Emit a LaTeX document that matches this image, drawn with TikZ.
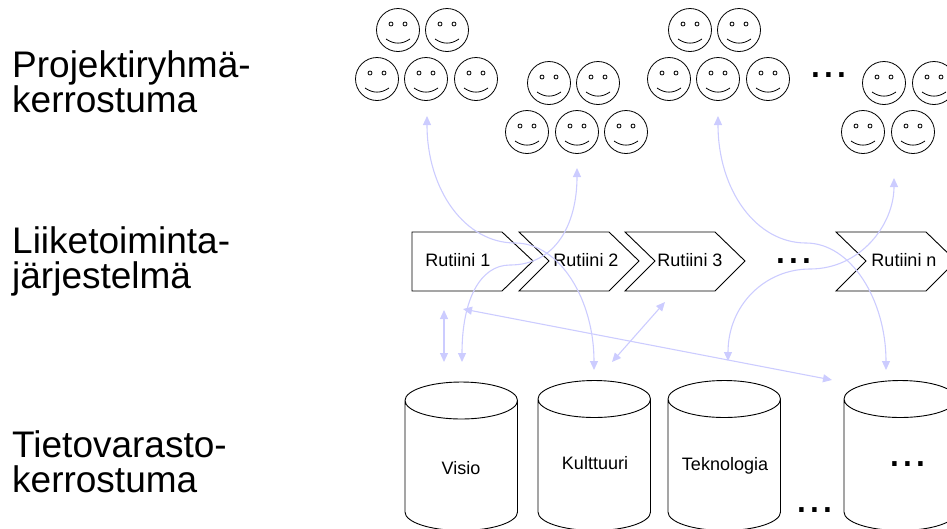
\documentclass[tikz,border=0pt]{standalone}
\usepackage{fontspec}
\setmainfont{Liberation Sans}
\usetikzlibrary{arrows.meta,positioning}

\begin{document}
\begin{tikzpicture}[x=1pt,y=-1pt]

\tikzset{layerLabel/.style={anchor=base west, align=left, inner sep=0pt, font=\fontsize{37}{34.5}\selectfont},
boxLabel/.style={anchor=base, inner sep=0pt, font=\fontsize{18}{20}\selectfont},
moreDots/.style={anchor=base, inner sep=0pt, font=\fontsize{46}{46}\selectfont},
linkArrow/.style={draw={rgb,255:red,204;green,204;blue,255}, line width=1.1pt, {Triangle[length=9pt,width=8pt]}-{Triangle[length=9pt,width=8pt]}}}

\path[use as bounding box, clip] (0,0) rectangle (947,528);

\node[layerLabel] (projektit) at (12,112) {Projektiryhmä-\\kerrostuma};
\node[layerLabel] (rutiinit) at (12,288) {Liiketoiminta-\\järjestelmä};
\node[layerLabel] (varastot) at (12,492) {Tietovarasto-\\kerrostuma};

%the people
\foreach \x/\y in {398/30, 447/30, 377/79, 426/79, 476/79, 549/83, 598/83, 527/132, 577/132, 626/132, 690/30, 739/30, 669/79, 718/79, 768/79, 884/83, 934/83, 863/132, 913/132}
{
  \draw[line width=0.8pt] (\x,\y) circle (21.5);
  \draw[line width=0.8pt] (\x-7,\y-6) circle (2) (\x+7,\y-6) circle (2);
  \draw[line width=0.8pt] (\x-12,\y+9) .. controls (\x-4,\y+14.5) and (\x+4,\y+14.5) .. (\x+12,\y+9);
}

%the routines
\draw[line width=0.9pt] (412,232) -- (502,232) -- (533,261) -- (502,291) -- (412,291) -- cycle;
\foreach \x in {519,625,836}
  \draw[line width=0.9pt] (\x,232) -- (\x+90,232) -- (\x+120,261) -- (\x+90,291) -- (\x,291) -- (\x+30,261) -- cycle;

\node[boxLabel] (rutiini1) at (458,266) {Rutiini 1};
\node[boxLabel] (rutiini2) at (586,266) {Rutiini 2};
\node[boxLabel] (rutiini3) at (690,266) {Rutiini 3};
\node[boxLabel] (rutiinin) at (904,266) {Rutiini n};

%the storages
\foreach \x/\y in {405/400.5,538/399,668/399,844/399}
  \draw[line width=0.9pt] (\x+56.25,\y) ellipse [x radius=56.25, y radius=18.5]
    (\x,\y) -- (\x,512) arc [start angle=180, end angle=0, x radius=56.25, y radius=18.5] -- (\x+112.5,\y);

\node[boxLabel] (visio) at (461,474) {Visio};
\node[boxLabel] (kulttuuri) at (595,469) {Kulttuuri};
\node[boxLabel] (teknologia) at (725,470) {Teknologia};

\node[moreDots] (dotsA) at (829,77) {...};
\node[moreDots] (dotsB) at (794,263) {...};
\node[moreDots] (dotsC) at (908,466) {...};
\node[moreDots] (dotsD) at (815,512) {...};

%now the links between the layers
\coordinate (ryhma1) at (427,116);
\coordinate (ryhma2) at (577,168);
\coordinate (ryhma3) at (718,116);
\coordinate (ryhma4) at (894,178);
\coordinate (vasenA) at (444,310);
\coordinate (vasenB) at (444,362);
\coordinate (vasenC) at (463,309);
\coordinate (visioIn) at (462,362);
\coordinate (kulttIn) at (594,370);
\coordinate (kulttB) at (612,362);
\coordinate (rutiiniB) at (665,302);
\coordinate (viimeA) at (832,380);
\coordinate (viimeB) at (886,370);
\coordinate (viimeC) at (728,361);

\draw[linkArrow] (ryhma1) .. controls (427,190) and (465,243) .. (515,243) .. controls (560,243) and (594,300) .. (kulttIn);
\draw[linkArrow] (ryhma2) .. controls (577,225) and (555,265) .. (510,265) .. controls (480,265) and (462,300) .. (visioIn);
\draw[linkArrow] (ryhma3) .. controls (718,190) and (756,243) .. (806,243) .. controls (851,243) and (886,300) .. (viimeB);
\draw[linkArrow] (ryhma4) .. controls (894,225) and (860,269) .. (810,269) .. controls (765,269) and (728,305) .. (viimeC);
\draw[linkArrow] (vasenA) -- (vasenB);
\draw[linkArrow] (vasenC) -- (viimeA);
\draw[linkArrow] (rutiiniB) -- (kulttB);

\end{tikzpicture}
\end{document}
